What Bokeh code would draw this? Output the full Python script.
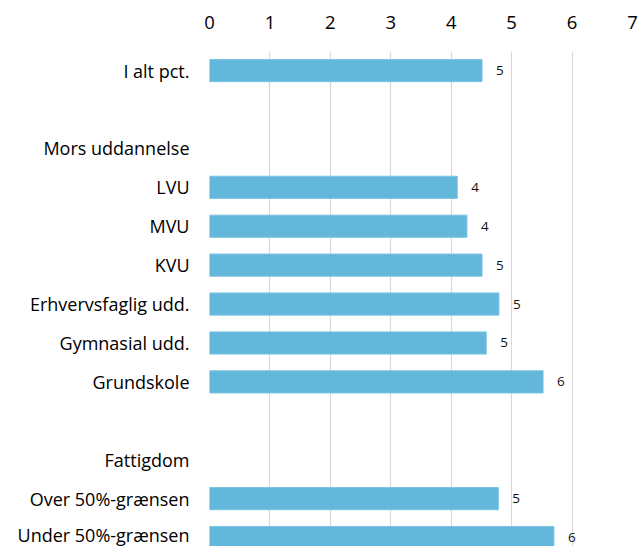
from bokeh.plotting import figure
from bokeh.models import Range1d, FixedTicker, ColumnDataSource
from bokeh.core.properties import value
from bokeh.embed import file_html
from bokeh.resources import INLINE

categories = ["I alt pct.", "", "Mors uddannelse", "LVU", "MVU", "KVU",
              "Erhvervsfaglig udd.", "Gymnasial udd.", "Grundskole", "",
              "Fattigdom", "Over 50%-grænsen", "Under 50%-grænsen"]
values = [4.51, None, None, 4.10, 4.26, 4.51, 4.79, 4.58, 5.52, None, None, 4.78, 5.70]
x_ticks = [0, 1, 2, 3, 4, 5, 6, 7]

rows = [i for i, v in enumerate(values) if v is not None]
vals = [values[i] for i in rows]
labels = [str(int(v + 0.5)) for v in vals]

src = ColumnDataSource(dict(y=rows, v=vals, lab=labels))

FONT = "Open Sans"

p = figure(width=640, height=546, output_backend="svg", toolbar_location=None,
           x_axis_location="above",
           x_range=Range1d(0, 7), y_range=Range1d(12.23, -0.49),
           min_border_left=209, min_border_top=51, min_border_right=8, min_border_bottom=0)
p.outline_line_color = None
p.background_fill_color = "white"
p.border_fill_color = "white"

p.hbar(y="y", right="v", left=0, height=0.57, source=src,
       fill_color="#5ab3d8", fill_alpha=0.95, line_color="#7cc4e2", line_width=1)
p.text(x="v", y="y", text="lab", source=src, x_offset=14, text_align="left",
       text_baseline="middle", text_font=value(FONT), text_font_size="13.5px", text_color="#111111")

p.xaxis.ticker = FixedTicker(ticks=x_ticks)
p.xaxis.axis_line_color = None
p.xaxis.major_tick_line_color = None
p.xaxis.minor_tick_line_color = None
p.xaxis.major_label_text_font = FONT
p.xaxis.major_label_text_font_size = "18.5px"
p.xaxis.major_label_text_color = "#000000"
p.xaxis.major_label_standoff = 17

p.yaxis.ticker = FixedTicker(ticks=list(range(len(categories))))
p.yaxis.major_label_overrides = {i: c for i, c in enumerate(categories)}
p.yaxis.axis_line_color = None
p.yaxis.major_tick_line_color = None
p.yaxis.minor_tick_line_color = None
p.yaxis.major_label_text_font = FONT
p.yaxis.major_label_text_font_size = "18px"
p.yaxis.major_label_text_color = "#000000"
p.yaxis.major_label_standoff = 14

p.xgrid.grid_line_color = "#d9d9d9"
p.xgrid.grid_line_width = 1.2
p.ygrid.grid_line_color = None

open("out.html", "w").write(file_html(p, INLINE))
